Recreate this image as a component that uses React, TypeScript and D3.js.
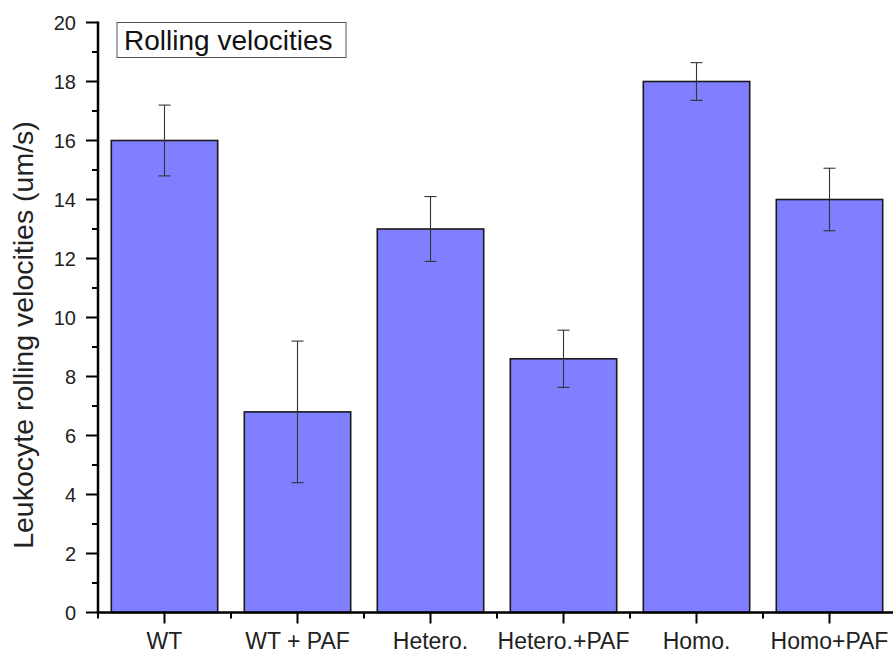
import React from "react";
import * as d3 from "d3";

const categories = ["WT", "WT + PAF", "Hetero.", "Hetero.+PAF", "Homo.", "Homo+PAF"];
const means = [16, 6.8, 13, 8.6, 18, 14];
const errors = [1.2, 2.4, 1.1, 0.97, 0.64, 1.06];
const yTicks = [0, 2, 4, 6, 8, 10, 12, 14, 16, 18, 20];
const yMinorTicks = [1, 3, 5, 7, 9, 11, 13, 15, 17, 19];

const W = 893;
const H = 653;
const axisX = 98;
const axisY = 612.5;
const topY = 22.5;
const FONT = "'Liberation Sans', Arial, sans-serif";

export default function App() {
  const x = d3.scaleBand<string>().domain(categories).range([axisX, axisX + 133 * 6]).paddingInner(0.2).paddingOuter(0.1);
  const step = x.step();
  const y = d3.scaleLinear().domain([0, 20]).range([axisY, topY]);
  const bw = x.bandwidth();
  const center = (c: string) => (x(c) as number) + bw / 2;

  return (
    <svg width={W} height={H} style={{ position: "absolute", left: 0, top: 0, background: "#fff" }}>
      {/* bars */}
      {categories.map((c, i) => (
        <rect
          key={c}
          x={x(c)}
          y={y(means[i])}
          width={bw}
          height={y(0) - y(means[i])}
          fill="#7F7FFF"
          stroke="#1a1a1a"
          strokeWidth={1.6}
        />
      ))}
      {/* error bars */}
      {categories.map((c, i) => {
        const cx = center(c);
        const hi = y(means[i] + errors[i]);
        const lo = y(means[i] - errors[i]);
        return (
          <g key={c + "-err"} stroke="#333" strokeWidth={1.1}>
            <line x1={cx} x2={cx} y1={hi} y2={lo} />
            <line x1={cx - 6} x2={cx + 6} y1={hi} y2={hi} />
            <line x1={cx - 6} x2={cx + 6} y1={lo} y2={lo} />
          </g>
        );
      })}
      {/* y axis */}
      <line x1={axisX} x2={axisX} y1={topY - 1} y2={axisY + 1} stroke="#000" strokeWidth={2.5} />
      {yTicks.map((t) => (
        <g key={"yt" + t}>
          <line x1={axisX - 12} x2={axisX} y1={y(t)} y2={y(t)} stroke="#000" strokeWidth={2} />
          <text x={axisX - 22} y={y(t)} dy="0.36em" textAnchor="end" fontFamily={FONT} fontSize={20} fill="#222">
            {t}
          </text>
        </g>
      ))}
      {yMinorTicks.map((t) => (
        <line key={"ym" + t} x1={axisX - 6} x2={axisX} y1={y(t)} y2={y(t)} stroke="#000" strokeWidth={2} />
      ))}
      {/* x axis */}
      <line x1={axisX - 1} x2={W} y1={axisY} y2={axisY} stroke="#000" strokeWidth={2.5} />
      {categories.map((c, i) => (
        <g key={"xt" + c}>
          <line x1={center(c)} x2={center(c)} y1={axisY} y2={axisY + 11} stroke="#000" strokeWidth={2} />
          <line
            x1={axisX + step * i}
            x2={axisX + step * i}
            y1={axisY}
            y2={axisY + 6}
            stroke="#000"
            strokeWidth={2}
          />
          <text x={center(c)} y={649} textAnchor="middle" fontFamily={FONT} fontSize={23} fill="#222">
            {c}
          </text>
        </g>
      ))}
      {/* y axis title */}
      <text
        transform={`translate(33, ${335}) rotate(-90)`}
        textAnchor="middle"
        fontFamily={FONT}
        fontSize={28.5}
        fill="#222"
      >
        Leukocyte rolling velocities (um/s)
      </text>
      {/* legend box */}
      <rect x={117} y={22.5} width={229} height={35} fill="#fff" stroke="#555" strokeWidth={1} />
      <text x={124} y={49.5} fontFamily={FONT} fontSize={28} fill="#111">
        Rolling velocities
      </text>
    </svg>
  );
}
